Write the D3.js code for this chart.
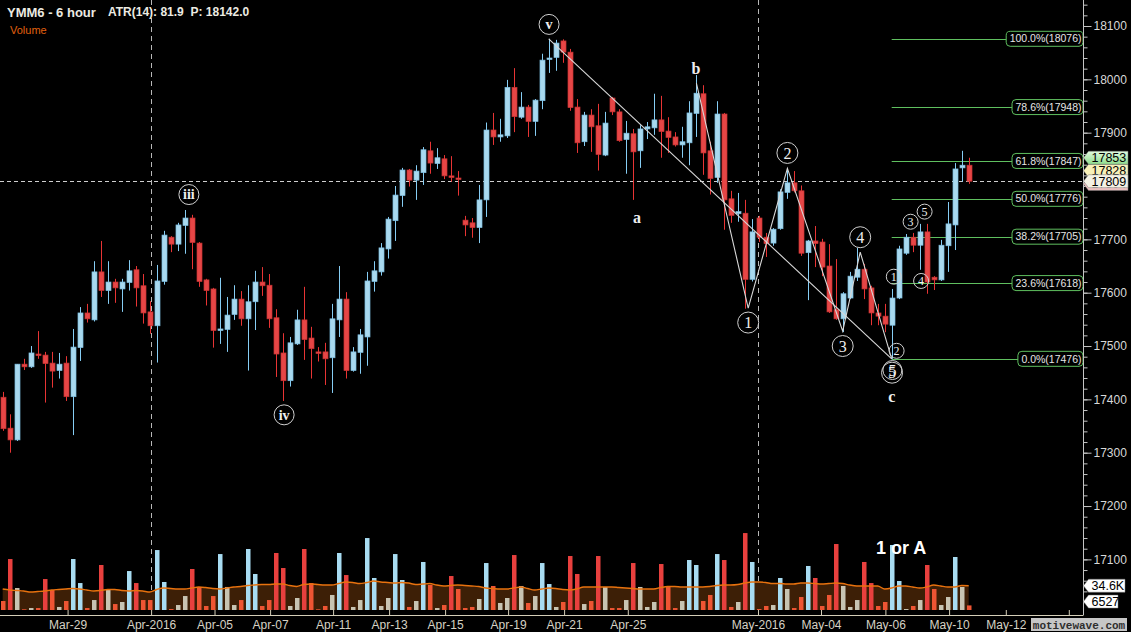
<!DOCTYPE html>
<html><head><meta charset="utf-8">
<script src="https://cdn.jsdelivr.net/npm/d3@7"></script>
<style>html,body{margin:0;padding:0;background:#000;overflow:hidden}svg{display:block}</style>
</head><body>
<svg id="c" width="1131" height="632"></svg>
<script>
// ---------- DATA ----------
const opens=[17404,17346,17324,17466,17461,17485,17483,17468,17454,17468,
17405,17497,17562,17549,17639,17604,17620,17607,17619,17643,
17613,17564,17538,17621,17704,17691,17726,17740,17693,17624,
17607,17529,17531,17559,17588,17551,17583,17620,17614,17553,
17487,17435,17504,17549,17515,17489,17489,17478,17549,17588,
17454,17488,17517,17621,17639,17682,17735,17782,17830,17811,
17825,17866,17842,17851,17819,17815,17736,17731,17722,17774,
17905,17892,17894,17985,17929,17948,17921,17960,18037,18041,
18072,18051,17948,17883,17933,17913,17858,17965,17939,17887,
17898,17866,17907,17909,17924,17903,17892,17877,17881,17936,
17973,17866,17816,17935,17776,17748,17749,17625,17740,17704,
17693,17720,17788,17806,17791,17675,17697,17695,17650,17568,
17551,17590,17629,17644,17609,17562,17556,17539,17590,17674,
17704,17689,17714,17629,17624,17688,17727,17834,17839];
const highs=[17414,17372,17466,17476,17500,17528,17489,17489,17487,17481,
17532,17573,17579,17659,17697,17659,17626,17626,17661,17650,
17635,17584,17652,17716,17706,17731,17755,17746,17695,17626,
17609,17628,17592,17614,17603,17614,17641,17648,17635,17569,
17524,17517,17568,17611,17536,17498,17506,17579,17650,17601,
17498,17532,17639,17659,17693,17742,17800,17834,17832,17839,
17873,17883,17871,17858,17856,17828,17744,17740,17802,17919,
17937,17926,17999,18021,17976,17952,17963,18048,18076,18074,
18075,18057,17963,17939,17944,17954,17939,17967,17944,17922,
17907,17914,17920,17973,17969,17929,17901,17911,17959,18008,
17989,17883,17959,17937,17791,17787,17774,17738,17744,17712,
17721,17794,17832,17828,17801,17699,17725,17701,17691,17663,
17601,17639,17684,17654,17613,17579,17579,17607,17688,17710,
17712,17729,17729,17631,17699,17770,17843,17866,17853];
const lows=[17341,17300,17322,17455,17459,17476,17394,17422,17439,17397,
17333,17472,17544,17546,17592,17579,17581,17564,17604,17574,
17542,17523,17469,17615,17676,17678,17673,17644,17611,17576,
17497,17504,17489,17549,17538,17454,17530,17594,17534,17442,
17397,17424,17502,17474,17439,17471,17427,17412,17517,17439,
17452,17448,17463,17602,17632,17664,17697,17761,17799,17774,
17802,17823,17832,17813,17808,17782,17706,17703,17693,17742,
17877,17883,17890,17901,17926,17892,17894,17944,18012,18016,
18031,17941,17862,17875,17864,17829,17856,17933,17883,17823,
17774,17834,17888,17896,17853,17862,17874,17853,17839,17892,
17821,17784,17806,17718,17731,17733,17570,17621,17695,17667,
17688,17718,17776,17788,17669,17586,17648,17631,17562,17549,
17526,17588,17622,17588,17539,17539,17526,17476,17588,17671,
17676,17643,17598,17605,17622,17639,17680,17808,17804];
const closes=[17345,17324,17466,17461,17487,17482,17467,17453,17466,17405,
17498,17562,17551,17639,17604,17620,17609,17620,17641,17609,
17562,17538,17622,17708,17691,17727,17740,17694,17621,17604,
17529,17532,17558,17588,17551,17583,17620,17613,17551,17485,
17435,17506,17549,17512,17495,17486,17476,17551,17588,17454,
17489,17521,17622,17641,17684,17738,17783,17830,17811,17828,
17868,17843,17853,17819,17816,17812,17727,17722,17774,17905,
17892,17896,17985,17930,17948,17921,17961,18036,18040,18068,
18051,17947,17881,17933,17911,17859,17918,17939,17885,17899,
17864,17907,17911,17924,17902,17891,17877,17883,17937,17974,
17862,17814,17935,17774,17745,17752,17625,17714,17704,17692,
17719,17789,17806,17791,17674,17697,17692,17648,17564,17551,
17598,17631,17644,17607,17562,17556,17541,17590,17682,17704,
17689,17714,17620,17624,17689,17729,17832,17839,17809];
// volume in thousands of contracts
const volumes=[12.8,72.6,31.3,1.0,2.8,2.8,44.1,28.5,4.3,12.8,
72.6,38.4,2.8,14.2,64.1,29.9,8.5,11.4,55.5,38.4,
14.2,14.2,85.4,39.9,1.4,7.1,19.9,58.4,32.8,5.7,
19.9,79.7,32.8,7.1,14.2,86.9,51.3,5.7,14.2,81.2,
59.8,5.7,17.1,86.9,38.4,1.0,5.7,21.4,81.2,49.8,
4.3,14.2,102.5,45.6,5.7,17.1,79.7,42.7,4.3,12.8,
68.4,35.6,2.8,7.1,48.4,29.9,2.8,4.3,15.7,66.9,
34.2,10.0,17.1,78.3,34.2,10.0,19.9,66.9,37.0,4.3,
11.4,76.9,51.3,8.5,12.8,76.9,32.8,2.8,2.8,14.2,
66.9,32.8,4.3,11.4,65.5,34.2,2.8,12.8,71.2,64.1,
12.8,21.4,79.7,71.2,4.3,11.4,109.6,68.4,1.4,5.7,
7.1,45.6,29.9,2.8,18.5,62.7,45.6,5.7,21.4,94.0,
34.2,4.3,14.2,68.4,38.4,5.7,11.4,92.6,41.3,1.4,
5.7,14.2,64.1,29.9,7.1,18.5,75.5,32.8,6.527];
// 1 = strong-volume colour (blue / red), 0 = weak (beige / orange)
const volBright=[0,1,0,0,0,0,1,0,0,0, 1,1,0,0,1,0,0,0,1,1, 0,0,1,1,0,0,0,1,0,0,
0,1,0,0,0,1,1,0,0,1, 1,0,0,1,0,0,0,0,1,1, 0,0,1,1,0,0,1,1,0,0,
1,0,0,0,1,0,0,0,0,1, 0,0,0,1,0,0,0,1,1,0, 0,1,1,0,0,1,0,0,0,0,
1,0,0,0,1,0,0,0,1,1, 0,0,1,1,0,0,1,1,0,0, 0,1,0,0,0,1,1,0,0,1,
0,0,0,1,1,0,0,1,1,0, 0,0,1,0,0,0,1,0,0];
// volume moving average (thousands)
const volMA=[29.9,28.5,27.8,27.1,25.6,26.3,27.1,28.5,29.2,29.9,
30.6,29.9,28.5,27.1,27.8,29.2,29.2,27.8,27.1,27.8,
27.1,25.6,29.2,31.3,30.6,29.9,29.9,31.3,32.8,32.0,
30.6,29.9,31.3,32.8,33.5,34.9,35.6,36.3,36.3,37.0,
37.0,34.9,33.5,36.3,37.0,36.3,35.6,35.6,37.7,39.9,
39.2,37.7,39.2,41.3,39.9,39.2,38.4,39.2,38.4,36.3,
37.0,37.7,35.6,34.2,34.9,35.6,34.9,34.2,33.5,31.3,
30.6,29.9,29.9,31.3,32.8,30.6,28.5,29.9,31.3,30.6,
29.2,28.5,29.9,32.8,32.8,32.8,32.8,32.8,32.0,31.3,
30.6,29.9,29.9,29.9,32.0,33.5,33.5,32.8,32.8,32.8,
32.8,33.5,34.9,35.6,35.6,36.3,38.4,39.9,39.9,39.2,
37.7,37.7,37.0,37.0,38.4,38.4,37.7,37.0,37.7,38.4,
37.7,35.6,34.2,34.2,34.2,34.2,29.9,31.3,34.2,34.2,
32.8,31.3,32.8,35.6,34.2,32.8,32.8,34.9,34.6];
const dateLabels=["Mar-29","Apr-2016","Apr-05","Apr-07","Apr-11","Apr-13","Apr-15","Apr-19","Apr-21","Apr-25","May-2016","May-04","May-06","May-10","May-12",""];
const dateTickBars=[10.27,22.2,31.26,39.2,48.2,56.2,64.2,73.2,81.2,90.3,108.9,117.9,127.1,136.2,144.3,153.3];
const monthStartBars=[22.2,108.9];
const priceLabelTicks=[17100,17200,17300,17400,17500,17600,17700,17800,17900,18000,18100];
const fibLevels=[0,23.6,38.2,50,61.8,78.6,100];
const fibPrices=[17476,17618,17705,17776,17847,17948,18076];
const fibStartBar=128;
// wave count lines (bar index, price)
const lineVC=[{i:79,p:18076},{i:128,p:17476}];
const zigzag=[{i:100.1,p:17993},{i:107.5,p:17571},{i:113.1,p:17833},{i:121,p:17528},{i:123.5,p:17676},{i:128,p:17476}];
const waveCircles=[
 {t:"iii",i:27.6,p:17784,r:10,k:"roman"},
 {t:"iv",i:41.2,p:17371,r:10,k:"roman"},
 {t:"v",i:79.05,p:18103,r:10,k:"roman"},
 {t:"1",i:107.5,p:17544,r:10.5,k:"big"},
 {t:"2",i:113.1,p:17862,r:10.5,k:"big"},
 {t:"3",i:121,p:17500,r:10.5,k:"big"},
 {t:"4",i:123.5,p:17704,r:10.5,k:"big"},
 {t:"5",i:128.1,p:17455,r:9.5,k:"big"},
 {t:"5",i:128.05,p:17450,r:10.5,k:"big"},
 {t:"2",i:128.7,p:17491,r:7.5,k:"small"},
 {t:"1",i:128.3,p:17630,r:7.5,k:"small"},
 {t:"3",i:130.7,p:17733,r:7.5,k:"small"},
 {t:"5",i:132.7,p:17752,r:7.5,k:"small"},
 {t:"4",i:132.2,p:17622,r:7.5,k:"small"}
];
const waveLetters=[{t:"a",i:91.6,p:17742},{t:"b",i:100.04,p:18021},{t:"c",i:128,p:17405}];

// ---------- DRAWING ----------
const W=1131,H=632;
const svg=d3.select("#c");
svg.append("rect").attr("width",W).attr("height",H).attr("fill","#000");
const n=closes.length;
const bars=d3.range(n).map(k=>({i:k+1,o:opens[k],h:highs[k],l:lows[k],c:closes[k],v:volumes[k],b:volBright[k],ma:volMA[k]}));
const x=d3.scaleLinear().domain([1,139]).range([2.7,968.7]);
const y=d3.scaleLinear().domain([17300,18100]).range([452.7,26]);
const yv=d3.scaleLinear().domain([0,100]).range([610,539.8]);
const axisX=1083.5, axisY=615;
const sans="'Liberation Sans',Arial,sans-serif", serif="'Liberation Serif','Times New Roman',serif";

// dashed grid lines
svg.append("g").selectAll("line").data(monthStartBars).join("line")
 .attr("x1",d=>Math.round(x(d))+0.5).attr("x2",d=>Math.round(x(d))+0.5)
 .attr("y1",0).attr("y2",612).attr("stroke","#b8b8b8").attr("stroke-dasharray","5,4");
const lastClose=closes[n-1];
svg.append("line").attr("x1",0).attr("x2",axisX).attr("y1",Math.round(y(lastClose))+0.5).attr("y2",Math.round(y(lastClose))+0.5)
 .attr("stroke","#cfcfcf").attr("stroke-dasharray","4,3");

// volume MA fill
const area=d3.area().x(d=>x(d.i)).y0(yv(0)).y1(d=>yv(d.ma)).curve(d3.curveMonotoneX);
svg.append("path").datum(bars).attr("d",area).attr("fill","#3d1f06");
// volume bars
const volColor=d=>{const up=d.c>=d.o; if(d.b) return up?"#a8dcf2":"#e8403e"; return up?"#c8c4b2":"#ee5533";};
svg.append("g").selectAll("rect").data(bars).join("rect")
 .attr("x",d=>Math.round(x(d.i))-2).attr("width",4.5)
 .attr("y",d=>yv(d.v)).attr("height",d=>yv(0)-yv(d.v)).attr("fill",volColor);
svg.append("path").datum(bars).attr("d",d3.line().x(d=>x(d.i)).y(d=>yv(d.ma)).curve(d3.curveMonotoneX))
 .attr("fill","none").attr("stroke","#e8720e").attr("stroke-width",1.4);

// fib lines
const fib=svg.append("g");
fibPrices.forEach((p,k)=>{
  const yy=Math.round(y(p))+0.5;
  fib.append("line").attr("x1",x(fibStartBar)).attr("x2",axisX).attr("y1",yy).attr("y2",yy).attr("stroke","#5fbf5f").attr("stroke-width",1);
});

// candles
const cg=svg.append("g");
bars.forEach(d=>{
  const up=d.c>=d.o;
  const cx=Math.round(x(d.i));
  cg.append("line").attr("x1",cx+0.5).attr("x2",cx+0.5).attr("y1",y(d.h)).attr("y2",y(d.l))
    .attr("stroke",up?"#86cdf4":"#e83434").attr("stroke-width",1);
  const top=y(Math.max(d.o,d.c)), bot=y(Math.min(d.o,d.c));
  const hgt=Math.max(bot-top,1.6);
  cg.append("rect").attr("x",cx-2).attr("width",5).attr("y",top).attr("height",hgt)
    .attr("fill",up?"#a9d9ef":"#e64646").attr("stroke",up?"#7bbde0":"#c83232").attr("stroke-width",0.7);
});

// wave lines
const ln=d3.line().x(d=>x(d.i)).y(d=>y(d.p));
svg.append("path").datum(lineVC).attr("d",ln).attr("fill","none").attr("stroke","#d8d8d8").attr("stroke-width",1.1);
svg.append("path").datum(zigzag).attr("d",ln).attr("fill","none").attr("stroke","#d8d8d8").attr("stroke-width",1.1);

// wave labels
const wg=svg.append("g");
waveCircles.forEach(w=>{
  const cx=x(w.i), cy=y(w.p);
  wg.append("circle").attr("cx",cx).attr("cy",cy).attr("r",w.r).attr("fill","none").attr("stroke","#d0d0d0").attr("stroke-width",1);
  const fs=w.k==="big"?16:(w.k==="small"?12:14);
  wg.append("text").attr("x",cx).attr("y",cy).attr("dy","0.35em").attr("text-anchor","middle")
    .attr("font-family",serif).attr("font-size",fs).attr("font-weight",w.k==="roman"?"bold":"normal")
    .attr("fill","#eeeeee").text(w.t);
});
waveLetters.forEach(w=>{
  wg.append("text").attr("x",x(w.i)).attr("y",y(w.p)).attr("dy","0.35em").attr("text-anchor","middle")
    .attr("font-family",serif).attr("font-size",16).attr("font-weight","bold").attr("fill","#eeeeee").text(w.t);
});

// fib labels
fibPrices.forEach((p,k)=>{
  const yy=y(p);
  const t=fib.append("text").attr("x",axisX-2).attr("y",yy).attr("dy","0.35em").attr("text-anchor","end")
    .attr("font-family",sans).attr("font-size",10.5).attr("fill","#e6e6e6")
    .text(fibLevels[k].toFixed(1)+"%("+p+")");
  const len=t.node().getComputedTextLength();
  fib.insert("rect","text").attr("x",axisX-2-len-3.5).attr("y",yy-7.5).attr("width",len+5).attr("height",15)
    .attr("rx",4).attr("fill","#000").attr("stroke","#5fbf5f").attr("stroke-width",1);
});

// right price axis
const minor=d3.range(17020,18141,20);
const ax=svg.append("g").attr("transform",`translate(${axisX},0)`);
ax.call(d3.axisRight(y).tickValues(minor).tickSize(4).tickFormat(""));
ax.call(g=>g.select(".domain").remove());
const ax2=svg.append("g").attr("transform",`translate(${axisX},0)`);
ax2.call(d3.axisRight(y).tickValues(priceLabelTicks).tickSize(8).tickPadding(2).tickFormat(d3.format("d")));
ax2.select(".domain").remove();
svg.selectAll(".tick line").attr("stroke","#c4c4c4");
ax2.selectAll("text").attr("font-family",sans).attr("font-size",12).attr("fill","#d8d8d8");
svg.append("line").attr("x1",axisX).attr("x2",axisX).attr("y1",0).attr("y2",axisY).attr("stroke","#c4c4c4");

// bottom date axis
const bx=svg.append("g").attr("transform",`translate(0,${axisY})`);
bx.call(d3.axisBottom(x).tickValues(dateTickBars).tickFormat((d,k)=>dateLabels[k]).tickSize(-5).tickPadding(5));
bx.select(".domain").remove();
bx.selectAll(".tick line").attr("stroke","#d4ceb8");
bx.selectAll("text").attr("font-family",sans).attr("font-size",12).attr("fill","#d6d2c4");
svg.append("line").attr("x1",0).attr("x2",axisX).attr("y1",axisY+0.5).attr("y2",axisY+0.5).attr("stroke","#d4ceb8");

// price tags
const defs=svg.append("defs");
const gr=defs.append("linearGradient").attr("id","gtag").attr("x1",0).attr("x2",0).attr("y1",0).attr("y2",1);
gr.append("stop").attr("offset","0%").attr("stop-color","#e2fbe0");
gr.append("stop").attr("offset","100%").attr("stop-color","#8fdc8c");
function tag(yc,label,fill,right){
  const g=svg.append("g");
  const hh=6.5;
  g.append("polygon").attr("points",[[axisX,yc],[axisX+5,yc-hh],[right,yc-hh],[right,yc+hh],[axisX+5,yc+hh]].map(p=>p.join(",")).join(" "))
   .attr("fill",fill).attr("stroke","#777").attr("stroke-width",0.5);
  g.append("text").attr("x",axisX+8).attr("y",yc).attr("dy","0.36em").attr("font-family",sans).attr("font-size",12.5).attr("fill","#000").text(label);
}
const last=bars[n-1];
const mid=(last.h+last.l)/2;
tag(y(last.l),String(last.l),"#f2c4c4",1128);
tag(y(mid),String(Math.floor(mid)),"#f8f0b8",1128);
tag(y(last.c),String(last.c),"#f4f1e4",1128);
tag(y(last.h),String(last.h),"url(#gtag)",1128);
// volume tags
tag(yv(volMA[n-1]),volMA[n-1].toFixed(1)+"K","#ffffff",1125);
tag(Math.min(yv(volumes[n-1]),601.6),String(Math.round(volumes[n-1]*1000)),"#ffffff",1118);

// texts
svg.append("text").attr("x",7).attr("y",17).attr("font-family",sans).attr("font-weight","bold").attr("font-size",13).attr("fill","#ecebe2").text("YMM6 - 6 hour");
svg.append("text").attr("x",108).attr("y",16).attr("font-family",sans).attr("font-weight","bold").attr("font-size",12).attr("fill","#ecebe2").text("ATR(14): 81.9  P: 18142.0").attr("xml:space","preserve");
svg.append("text").attr("x",10).attr("y",34).attr("font-family",sans).attr("font-size",11).attr("fill","#e0600e").text("Volume");
svg.append("text").attr("x",876).attr("y",554).attr("font-family",sans).attr("font-weight","bold").attr("font-size",18).attr("fill","#ffffff").text("1 or A");
// watermark
svg.append("rect").attr("x",1031).attr("y",618).attr("width",96).attr("height",13).attr("fill","#c6c6c6");
svg.append("text").attr("x",1079).attr("y",628.5).attr("text-anchor","middle").attr("font-family","'Liberation Mono','DejaVu Sans Mono',monospace").attr("font-weight","bold").attr("font-size",11).attr("fill","#2e2e2e").text("motivewave.com");
</script>
</body></html>
